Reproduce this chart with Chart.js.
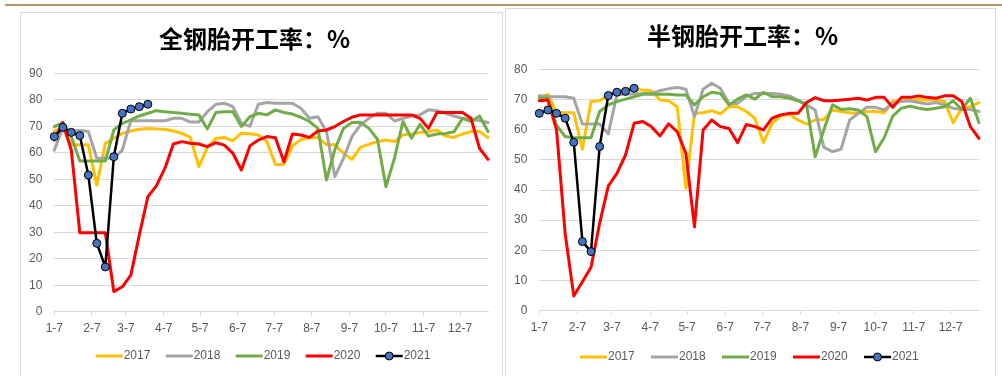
<!DOCTYPE html>
<html>
<head>
<meta charset="utf-8">
<script src="https://cdn.jsdelivr.net/npm/chart.js@4.4.1/dist/chart.umd.min.js"></script>
<style>
  html, body { margin: 0; padding: 0; background: #fff; width: 1002px; height: 376px; overflow: hidden; position: relative; }
  #rule { position: absolute; left: 5px; top: 4px; width: 997px; height: 2px; background: #b4955e; }
  .panel { position: absolute; box-sizing: border-box; border: 1px solid #d9d9d9; background: #fff; }
  #p1 { left: 20px; top: 12px; width: 483px; height: 390px; }
  #p2 { left: 505px; top: 8px; width: 491px; height: 394px; }
  .panel canvas { position: absolute; left: 0; top: 0; }
</style>
</head>
<body>
<div id="rule"></div>
<div class="panel" id="p1"><canvas id="c1" width="481" height="363" style="width:481px;height:363px"></canvas></div>
<div class="panel" id="p2"><canvas id="c2" width="489" height="367" style="width:489px;height:367px"></canvas></div>

<script>
// Month tick positions (days after 1-7) and their labels
const monthDays = [0, 31, 59, 90, 120, 151, 181, 212, 243, 273, 304, 334];
const monthLabels = ['1-7', '2-7', '3-7', '4-7', '5-7', '6-7', '7-7', '8-7', '9-7', '10-7', '11-7', '12-7'];
const years = ['2017', '2018', '2019', '2020', '2021'];
const yearColors = ['#ffc000', '#a5a5a5', '#70ad47', '#ff0000', '#000000'];

// 全钢胎开工率 (%), weekly
const allSteel2017 = [68.2, 69.2, 63, 63, 63, 47.8, 63.5, 65.5, 67.3, 68.2, 68.9, 69.2, 69, 68.9, 68.2, 67.3, 65.8, 54.8, 62, 65.5, 65.8, 64.5,
  67.4, 67.2, 66.7, 64.2, 55.6, 55.6, 62.6, 65, 65.7, 65.8, 63, 63, 59.8, 57.5, 62, 63.2, 64.2, 64.8, 64.2, 66.7, 67.1, 67.6, 68, 68.6, 66.3, 65.8, 67.1, 68, 68, 65.8];
const allSteel2018 = [61, 69.2, 68.2, 68.4, 68, 57.9, 57.9, 57.9, 61, 72.1, 72.1, 72.1, 72.1, 72.1, 73, 73, 71.6, 71.6, 75.5, 78.3, 78.7, 77.4,
  71.1, 70, 78.3, 79, 78.7, 78.7, 78.7, 76.8, 73, 73.6, 68, 51, 57.9, 66.1, 70.5, 73, 74.9, 74.9, 72, 73, 73.9, 74.3, 76.2, 75.9, 74.9, 73.9, 73, 72.6, 72.1, 71.4];
const allSteel2019 = [69.9, 71.4, 66.1, 56.9, 56.9, 56.9, 56.9, 68.6, 71.1, 72.4, 73.9, 74.9, 75.9, 75.5, 75.2, 74.9, 74.5, 74.3, 69, 75.2, 75.5, 75.5,
  69.9, 73.6, 74.9, 74.3, 76.2, 75.2, 74.6, 73.4, 71.8, 69.2, 49.7, 61.3, 69.2, 71.4, 71.5, 69.2, 65.1, 47.2, 57.9, 71.8, 65.5, 70.7, 66.3, 67.1, 67.3, 67.9, 73, 71.8, 73.9, 68];
const allSteel2020 = [64.8, 71.4, 61, 29.8, 29.8, 29.8, 29.8, 7.6, 9.4, 13.8, 29, 43.4, 47.5, 54.1, 63.3, 64.2, 63.6, 63.3, 62.3, 63.8, 62.9, 59.8,
  53.5, 62.6, 64.8, 66.1, 65.7, 56.6, 67.1, 66.7, 65.8, 68.2, 68.6, 69.9, 71.8, 73.4, 74.3, 74.3, 74.3, 74.3, 74.3, 74.3, 74.3, 73, 69.2, 75.2, 75.2, 75.2, 75.2, 73, 61.7, 57.5];
const allSteel2021 = [66.1, 69.6, 67.7, 66.5, 51.6, 25.8, 16.9, 58.5, 74.9, 76.5, 77.4, 78.3];

// 半钢胎开工率 (%), weekly
const semiSteel2017 = [70.6, 71.7, 65.6, 65.6, 65.6, 53.5, 69.3, 69.6, 71.5, 72.6, 73.4, 73.7, 73.1, 72.9, 69.8, 69.6, 67.6, 40.6, 65.4, 65.6, 66.3, 65.2, 67.6, 67.6,
  66, 63.8, 55.7, 62.1, 64.5, 65.1, 63.2, 61.9, 63.2, 63.4, 66.5, 66, 65.6, 65.4, 66, 66, 65.6, 69.3, 69.8, 70, 70, 69.8, 69.8, 69.3, 62.3, 67.1, 67.6, 69];
const semiSteel2018 = [71.2, 70.9, 70.9, 70.9, 70.4, 61.9, 61.9, 61.9, 58.6, 71.5, 71.8, 71.8, 72, 72, 72.9, 73.6, 74, 73.4, 64.3, 73.4, 75.4, 73.7, 68.7, 68.7,
  71, 72, 72, 72, 71.7, 71.2, 69.8, 68.2, 66.5, 54.1, 52.7, 53.5, 63.2, 65.4, 67.4, 67.4, 66.5, 68.7, 69.3, 69.6, 69, 68.5, 69, 68.2, 67.1, 66.7, 66.7, 66];
const semiSteel2019 = [70.5, 70.5, 61.5, 57.7, 57.3, 57.3, 57.3, 66, 68.2, 69.3, 70.1, 70.9, 71.7, 71.7, 71.7, 71.7, 71.5, 71.5, 68.2, 70.9, 72.4, 72, 68.2, 70.1,
  71.5, 70.1, 72.4, 70.9, 70.9, 70.4, 69.6, 68.2, 51, 59.9, 68.2, 66.7, 66.9, 66.5, 64.3, 52.7, 57.3, 64.5, 67.1, 67.8, 67.1, 66.7, 67.1, 67.6, 69.6, 66.7, 70.4, 62.3];
const semiSteel2020 = [69.6, 69.8, 59.9, 25.6, 4.9, 9.6, 14.4, 29, 41.3, 45.5, 51.6, 62.1, 62.7, 61, 57.9, 61.9, 59.3, 52.2, 27.8, 59.9, 63.2, 61, 60.4, 55.7,
  61.7, 61, 59.9, 63.8, 64.9, 65.4, 65.4, 69, 70.6, 69.6, 69.6, 69.8, 70.1, 70.4, 69.8, 70.7, 70.7, 67.4, 70.7, 70.7, 71.2, 70.7, 70.4, 71.2, 71.2, 69.3, 61, 57.1];
const semiSteel2021 = [65.4, 66.5, 65.4, 63.8, 55.8, 22.9, 19.6, 54.4, 71.3, 72.4, 72.7, 73.7];

Chart.defaults.font.family = '"Liberation Sans", Arial, sans-serif';
Chart.defaults.color = '#595959';

// Legend with short line samples (and a marker for series that have one)
const lineLegend = {
  id: 'lineLegend',
  afterDraw(chart, args, opts) {
    const ctx = chart.ctx;
    const lineW = 27, gap = 1;
    ctx.save();
    ctx.font = '12px "Liberation Sans", Arial, sans-serif';
    ctx.textBaseline = 'middle';
    ctx.textAlign = 'left';
    let x = opts.startX;
    const y = opts.y;
    chart.data.datasets.forEach(ds => {
      ctx.strokeStyle = ds.borderColor;
      ctx.lineWidth = ds.borderWidth;
      ctx.lineCap = 'butt';
      ctx.beginPath();
      ctx.moveTo(x, y);
      ctx.lineTo(x + lineW, y);
      ctx.stroke();
      if (ds.pointRadius > 0) {
        ctx.beginPath();
        ctx.arc(x + lineW / 2, y, ds.pointRadius, 0, Math.PI * 2);
        ctx.fillStyle = ds.pointBackgroundColor;
        ctx.fill();
        ctx.lineWidth = ds.pointBorderWidth;
        ctx.strokeStyle = ds.pointBorderColor;
        ctx.stroke();
      }
      ctx.fillStyle = '#595959';
      ctx.fillText(ds.label, x + lineW + gap, y);
      x += opts.stride;
    });
    ctx.restore();
  }
};

function series(idx, values) {
  const marked = idx === 4;
  return {
    label: years[idx],
    data: values.map((v, i) => ({ x: i * 7, y: v })),
    borderColor: yearColors[idx],
    backgroundColor: yearColors[idx],
    borderWidth: marked ? 2.5 : 3,
    pointRadius: marked ? 4 : 0,
    pointHoverRadius: marked ? 4 : 0,
    pointBackgroundColor: '#4472c4',
    pointBorderColor: '#000000',
    pointBorderWidth: 1,
    tension: 0,
    fill: false,
    clip: false,
    borderJoinStyle: 'round',
    borderCapStyle: 'round',
    order: 4 - idx
  };
}

function buildChart(id, cfg) {
  return new Chart(document.getElementById(id), {
    type: 'line',
    data: { datasets: cfg.values.map((v, i) => series(i, v)) },
    plugins: [lineLegend],
    options: {
      responsive: false,
      animation: false,
      devicePixelRatio: 1,
      events: [],
      layout: { padding: { left: 0, right: cfg.padRight, top: 0, bottom: cfg.padBottom } },
      plugins: {
        legend: { display: false },
        tooltip: { enabled: false },
        title: {
          display: true,
          text: cfg.title,
          color: '#000000',
          font: { family: '"Noto Sans CJK SC", sans-serif', size: 24, weight: 'bold', lineHeight: 1.2 },
          padding: { top: cfg.titleTop, bottom: cfg.titleBottom }
        },
        lineLegend: { startX: cfg.legendX, y: cfg.legendY, stride: cfg.legendStride }
      },
      scales: {
        x: {
          type: 'linear',
          min: 0,
          max: 357,
          afterBuildTicks: s => { s.ticks = monthDays.map(d => ({ value: d })); },
          afterFit: s => { s.height = 30; },
          grid: { display: true, drawOnChartArea: false, drawTicks: true, tickLength: 4, color: '#d9d9d9' },
          border: { display: true, color: '#d9d9d9' },
          ticks: {
            autoSkip: false, maxRotation: 0, minRotation: 0, padding: 6,
            color: '#595959', font: { size: 12 },
            callback: (v, i) => monthLabels[i]
          }
        },
        y: {
          min: 0,
          max: cfg.yMax,
          afterFit: s => { s.width = 33.3; },
          grid: { color: '#d9d9d9', drawTicks: false },
          border: { display: false },
          ticks: { stepSize: 10, padding: 12, color: '#595959', font: { size: 12 } }
        }
      }
    }
  });
}

buildChart('c1', {
  title: '全钢胎开工率：%',
  values: [allSteel2017, allSteel2018, allSteel2019, allSteel2020, allSteel2021],
  yMax: 90,
  padRight: 14,
  padBottom: 34.3,
  titleTop: 11.9,
  titleBottom: 19.6,
  legendX: 74.7,
  legendY: 343,
  legendStride: 70
});

buildChart('c2', {
  title: '半钢胎开工率：%',
  values: [semiSteel2017, semiSteel2018, semiSteel2019, semiSteel2020, semiSteel2021],
  yMax: 80,
  padRight: 16,
  padBottom: 35.3,
  titleTop: 12.6,
  titleBottom: 18.9,
  legendX: 74,
  legendY: 348,
  legendStride: 71
});
</script>
</body>
</html>
